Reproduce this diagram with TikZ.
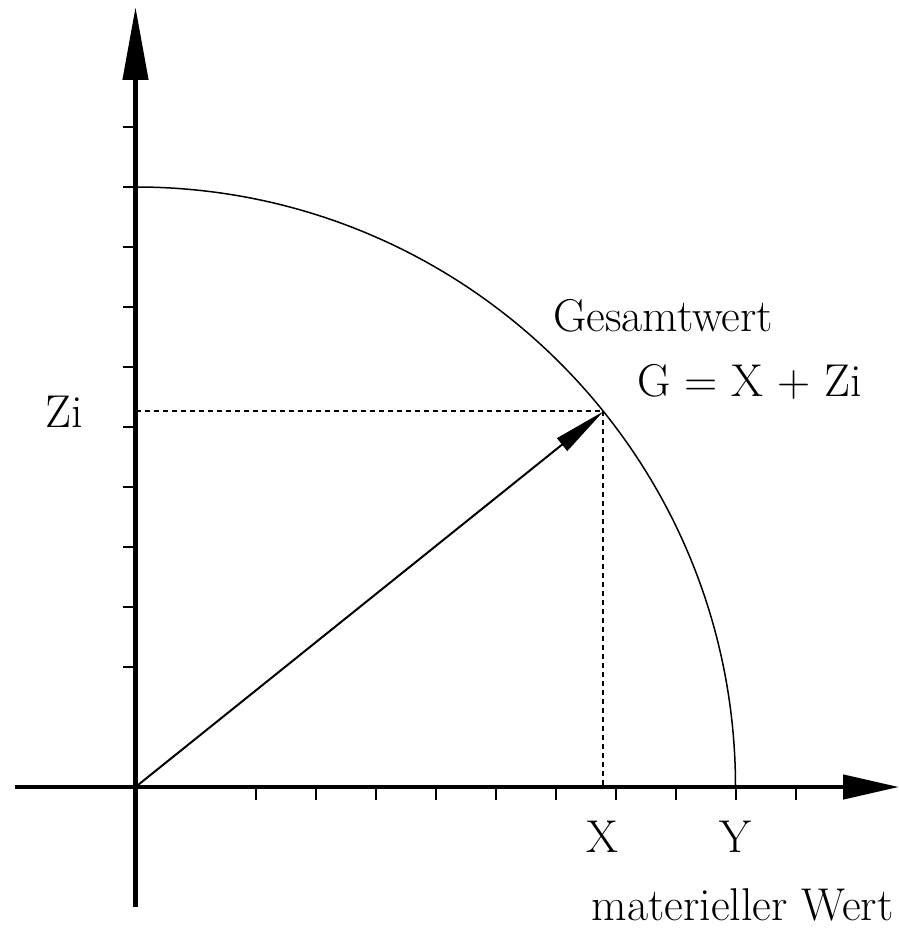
\documentclass[tikz,border=0pt]{standalone}
\usetikzlibrary{arrows.meta}
\begin{document}
\begin{tikzpicture}[x=1pt,y=1pt,
  axis/.style={line width=4.5pt},
  tick/.style={line width=2pt},
  helper/.style={line width=2pt,dash pattern=on 5pt off 4pt},
  vec/.style={line width=2pt,-{Triangle[length=53pt,width=16pt]}},
  lbl/.style={inner sep=0pt,font=\fontsize{46}{50}\selectfont},
  smalllbl/.style={inner sep=0pt,font=\fontsize{46}{50}\selectfont}]
\useasboundingbox (-135.5,-142) rectangle (763.5,787);
\coordinate (O) at (0,0);
\coordinate (P) at (38.75:600);
\coordinate (Px) at (P |- O);
\coordinate (Py) at (P -| O);
\coordinate (ybot) at (0,-120);
\coordinate (ytop) at (0,780);
\coordinate (xleft) at (-120.5,0);
\coordinate (xright) at (763.5,0);
% ticks
\foreach \k in {2,...,11}{
  \draw[tick] (-12.5,60*\k) -- (0,60*\k);
  \draw[tick] (60*\k,0) -- (60*\k,-13);
}
% arc
\draw[line width=1.5pt] (600,0) arc[start angle=0,end angle=90,radius=600];
% helpers
\draw[helper] (Py) -- (P);
\draw[helper] (P) -- (Px);
% axes
\draw[axis,-{Triangle[length=73pt,width=25pt]}] (ybot) -- (ytop);
\draw[axis,-{Triangle[length=56pt,width=24pt]}] (xleft) -- (xright);
% vector
\draw[vec] (O) -- (P);
% labels
\node[lbl,anchor=base] (zi) at (-71.5,359) {Zi};
\node[smalllbl,anchor=base west] (ges) at (417.5,455) {Gesamtwert};
\node[lbl,anchor=base west] (form) at (501.5,390) {G = X + Zi};
\node[lbl,anchor=base] (xl) at (466.5,-65) {X};
\node[lbl,anchor=base] (yl) at (600,-65) {Y};
\node[lbl,anchor=base east] (mw) at (758,-133) {materieller Wert};
\end{tikzpicture}
\end{document}
